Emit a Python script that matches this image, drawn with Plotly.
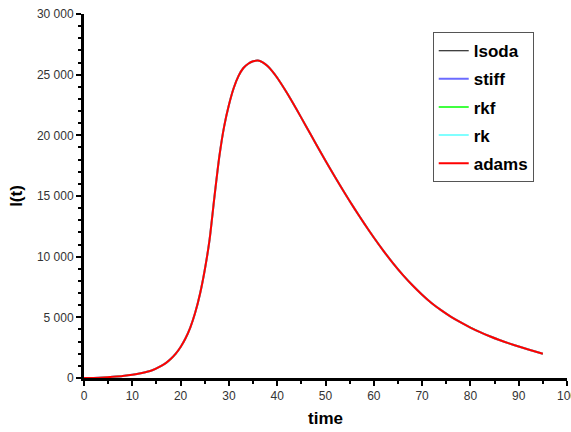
import plotly.graph_objects as go

# Data
time = [0, 2, 4, 6, 8, 10, 12, 14, 16, 17, 18, 19, 20, 21, 22, 23, 24, 25, 26, 27, 28, 29, 30, 31, 32, 33,
        34, 35, 36, 37, 38, 39, 40, 42, 44, 46, 48, 50, 52, 54, 56, 58, 60, 62, 64, 66, 68, 70, 72, 74,
        76, 78, 80, 82, 84, 86, 88, 90, 92, 95]
infected = [0, 10, 40, 100, 170, 270, 420, 620, 1000, 1250, 1580, 2000, 2550, 3250, 4150, 5350, 6900,
            8900, 11400, 14900, 18200, 20700, 22500, 23900, 24900, 25550, 25900, 26100, 26160, 26010,
            25710, 25280, 24750, 23510, 22150, 20730, 19310, 17910, 16550, 15230, 13960, 12740, 11580,
            10480, 9450, 8500, 7640, 6860, 6160, 5570, 5040, 4580, 4160, 3780, 3440, 3130, 2850, 2590,
            2350, 2000]
methods = ["lsoda", "stiff", "rkf", "rk", "adams"]
colors = ["#000000", "#6b6bff", "#00ff00", "#80ffff", "#ff0000"]
widths = [1, 2, 1.5, 2, 2]

x_ticks = [0, 10, 20, 30, 40, 50, 60, 70, 80, 90, 100]
y_ticks = [0, 5000, 10000, 15000, 20000, 25000, 30000]

fig = go.Figure()
for name, c, w in zip(methods, colors, widths):
    fig.add_trace(go.Scatter(
        x=time, y=infected, mode="lines", name=name, legendgroup=name,
        line=dict(color=c, width=w, shape="spline", smoothing=0.6),
    ))

axis_common = dict(
    showline=True, linecolor="black", linewidth=3, mirror=False,
    ticks="outside", ticklen=5, tickwidth=2, tickcolor="black",
    showgrid=False, zeroline=False, automargin=False,
    tickfont=dict(family="Liberation Sans, Arial, sans-serif", size=12, color="#333333"),
    title_font=dict(family="Liberation Sans, Arial, sans-serif", size=17, color="black"),
)

fig.update_xaxes(
    range=[0, 100], tickvals=x_ticks, ticklabeloverflow="allow",
    minor=dict(dtick=5, ticklen=3, tickwidth=2, tickcolor="black", ticks="outside"),
    title_text="<b>time</b>", title_standoff=10, **axis_common,
)
fig.update_yaxes(
    range=[0, 30000], tickvals=y_ticks, tickformat=",d",
    minor=dict(dtick=1000, ticklen=3, tickwidth=2, tickcolor="black", ticks="outside"),
    title_text="<b>I(t)</b>", title_standoff=10, **axis_common,
)

fig.update_layout(
    width=571, height=432,
    margin=dict(l=84, r=4, t=14, b=54, autoexpand=False),
    paper_bgcolor="white", plot_bgcolor="white",
    separators=". ",
    showlegend=True,
    legend=dict(
        x=0.722, y=0.95, xanchor="left", yanchor="top",
        bordercolor="#555555", borderwidth=1, bgcolor="white",
        font=dict(family="Liberation Sans, Arial, sans-serif", size=17, color="black", weight="bold"),
        tracegroupgap=3, traceorder="grouped",
    ),
)

fig.write_html("out.html")
